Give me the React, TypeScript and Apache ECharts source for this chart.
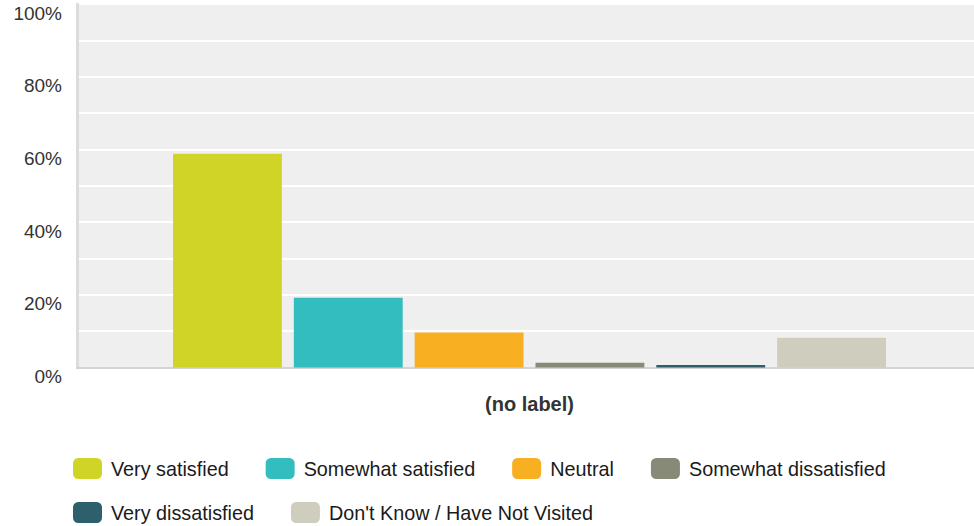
import React, { useEffect, useRef } from "react";
import * as echarts from "echarts";

const categories = ["(no label)"];
const seriesNames = [
  "Very satisfied",
  "Somewhat satisfied",
  "Neutral",
  "Somewhat dissatisfied",
  "Very dissatisfied",
  "Don't Know / Have Not Visited",
];
const seriesValues = [58.8, 19.2, 9.6, 1.3, 0.7, 8.2];
const seriesColors = ["#d0d427", "#33bdbf", "#f8af21", "#888a78", "#2e5f6c", "#cfcdbe"];
const yTicks = [0, 20, 40, 60, 80, 100];

export default function App() {
  const ref = useRef<HTMLDivElement>(null);
  useEffect(() => {
    if (!ref.current) return;
    const chart = echarts.init(ref.current, undefined, { renderer: "svg" });
    const font = "'Liberation Sans', Arial, Helvetica, sans-serif";
    const legendBase = {
      left: 73,
      padding: 0,
      itemWidth: 29,
      itemHeight: 21,
      itemGap: 37,
      icon: "roundRect",
      width: 950,
      textStyle: { fontSize: 19.8, color: "#1a1a1a", fontFamily: font, padding: [0, 0, 0, 4] },
    };
    chart.setOption({
      animation: false,
      textStyle: { fontFamily: font },
      grid: [
        {
          left: 77,
          right: 0,
          top: 4,
          bottom: 158.5,
          show: true,
          backgroundColor: "#efefef",
          borderWidth: 0,
        },
        {
          left: 85,
          right: 0,
          top: 4,
          bottom: 158.5,
          show: false,
        },
      ],
      legend: [
        { ...legendBase, data: seriesNames.slice(0, 4), top: 458 },
        { ...legendBase, data: seriesNames.slice(4), top: 502 },
      ],
      xAxis: [
        {
          type: "category",
          gridIndex: 0,
          data: [""],
          axisLine: { show: true, lineStyle: { color: "#d3d3d3", width: 2 } },
          axisTick: { show: false },
          axisLabel: { show: false },
        },
        {
          type: "category",
          gridIndex: 1,
          data: categories,
          axisLine: { show: false },
          axisTick: { show: false },
          axisLabel: {
            margin: 26,
            fontSize: 20,
            fontWeight: "bold",
            color: "#333333",
            fontFamily: font,
          },
        },
      ],
      yAxis: [
        {
          type: "value",
          gridIndex: 0,
          min: 0,
          max: 100,
          interval: 10,
          axisLine: { show: true, lineStyle: { color: "#dcdcdc", width: 3 } },
          axisTick: { show: false },
          splitLine: { show: true, lineStyle: { color: "#ffffff", width: 2 } },
          axisLabel: {
            margin: 15,
            fontSize: 19,
            color: "#333333",
            fontFamily: font,
            verticalAlign: "top",
            lineHeight: 18,
            formatter: (v: number) => (yTicks.includes(v) ? v + "%" : ""),
          },
        },
        {
          type: "value",
          gridIndex: 1,
          min: 0,
          max: 100,
          interval: 10,
          axisLine: { show: false },
          axisTick: { show: false },
          splitLine: { show: false },
          axisLabel: { show: false },
        },
      ],
      series: seriesNames.map((name, i) => ({
        name,
        type: "bar",
        xAxisIndex: 1,
        yAxisIndex: 1,
        data: [seriesValues[i]],
        itemStyle: { color: seriesColors[i] },
        barCategoryGap: "19.8%",
        barGap: "11%",
      })),
    });
    return () => chart.dispose();
  }, []);
  return <div ref={ref} style={{ width: 974, height: 526, position: "absolute", left: 0, top: 0 }} />;
}
